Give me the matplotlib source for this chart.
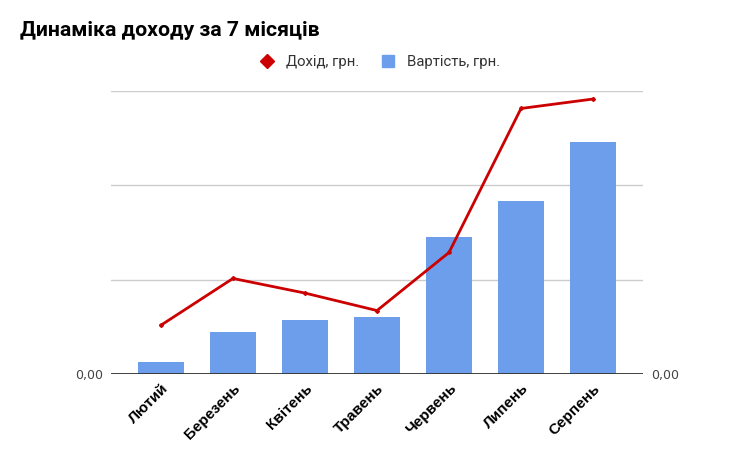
import matplotlib.pyplot as plt
from matplotlib.lines import Line2D

months = ["Лютий", "Березень", "Квітень", "Травень", "Червень", "Липень", "Серпень"]
cost = [130, 450, 570, 605, 1455, 1840, 2460]
income = [520, 1015, 860, 675, 1290, 2815, 2915]
grid_ticks = [0, 1000, 2000, 3000]
tick_labels = ["0,00", "", "", ""]

bar_color = "#6d9eeb"
line_color = "#cc0000"

fig = plt.figure(figsize=(7.51, 4.66), dpi=100)
ax = fig.add_axes([111 / 751, 1 - 374.3 / 466, 532 / 751, 283.3 / 466])
ax2 = ax.twinx()

x = list(range(len(months)))
ax.bar(x, cost, width=0.63, color=bar_color, zorder=2)
ax2.plot(x, income, color=line_color, linewidth=2, marker='D', markersize=2, zorder=3)

for a in (ax, ax2):
    a.set_ylim(0, 3000)
    a.set_yticks(grid_ticks)
    a.set_yticklabels(tick_labels)
    a.tick_params(axis='y', length=0, labelsize=9, labelcolor="#444444", pad=6)
    for s in a.spines.values():
        s.set_visible(False)

ax.set_xlim(-0.694, 6.694)
ax.yaxis.grid(True, color="#cccccc", linewidth=1, zorder=0)
ax.set_axisbelow(True)
ax.axhline(0, color="#333333", linewidth=1.3, zorder=4)
ax.set_zorder(ax2.get_zorder() - 1)
ax.patch.set_visible(False)

ax.set_xticks(x)
ax.set_xticklabels(months, rotation=45, ha='right', rotation_mode='anchor',
                   fontsize=11, fontweight='bold', family='Liberation Sans')
ax.tick_params(axis='x', length=0, pad=5)

fig.text(20 / 751, 1 - 30 / 466, "Динаміка доходу за 7 місяців", fontsize=15.3,
         fontweight='bold', family='Roboto', va='center', ha='left')

handles = [
    Line2D([], [], color=line_color, marker='D', linestyle='none', markersize=7),
    Line2D([], [], color=bar_color, marker='s', linestyle='none', markersize=9),
]
fig.legend(handles, ["Дохід, грн.", "Вартість, грн."], loc='center',
           bbox_to_anchor=(376 / 751, 1 - 62 / 466), ncol=2, frameon=False,
           handletextpad=0.3, columnspacing=0.9,
           labelcolor="#333333", prop={'family': 'Roboto', 'size': 10.7})

fig.savefig("out.png", dpi=100)
